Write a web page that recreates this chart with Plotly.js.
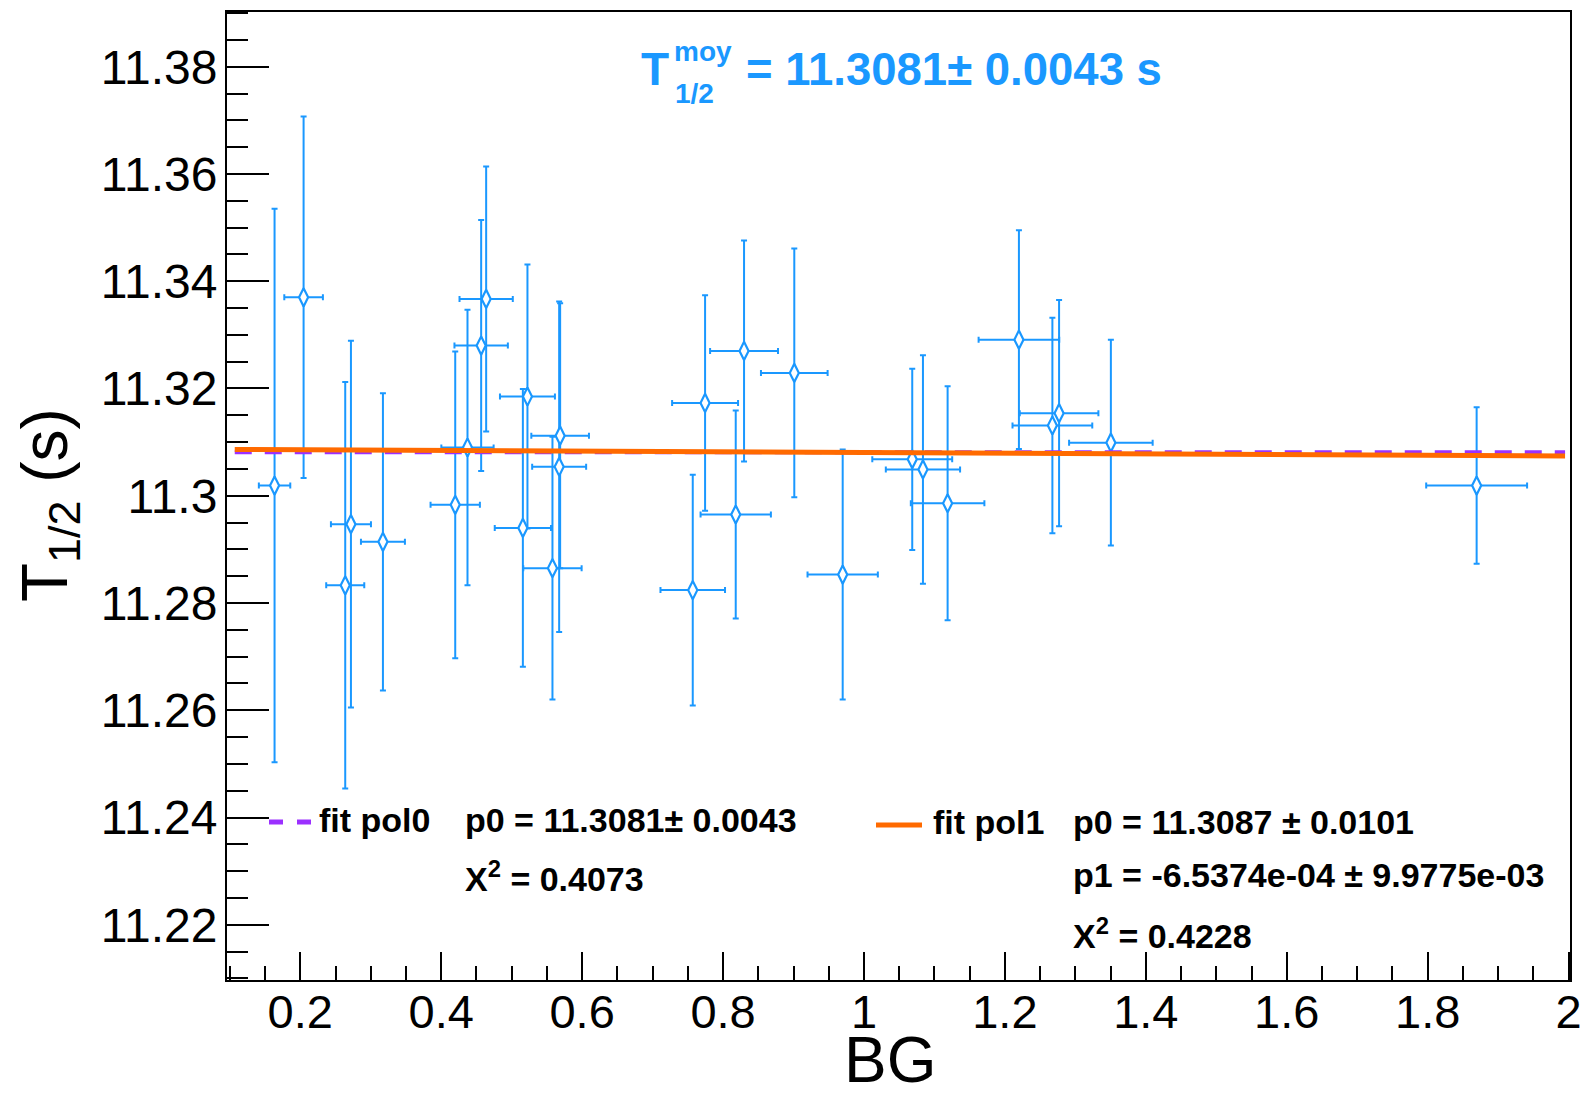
<!DOCTYPE html>
<html>
<head>
<meta charset="utf-8">
<script src="https://cdn.plot.ly/plotly-3.0.1.min.js"></script>
<style>
html,body{margin:0;padding:0;background:#fff;}
#chart{width:1588px;height:1097px;}
</style>
</head>
<body>
<div id="chart"></div>
<script>
// ---- data ----
const bg = [0.1635, 0.2047, 0.2638, 0.2719, 0.3173, 0.4199, 0.4373, 0.4567, 0.4638, 0.5159,
            0.5224, 0.5579, 0.5674, 0.5688, 0.7570, 0.7745, 0.8180, 0.8298, 0.9011, 0.9698,
            1.0685, 1.0837, 1.1187, 1.2199, 1.2674, 1.2769, 1.3504, 1.8695];
const bgErr = [0.0223, 0.0274, 0.0270, 0.0284, 0.0312, 0.0350, 0.0371, 0.0379, 0.0378, 0.0399,
               0.0390, 0.0414, 0.0383, 0.0409, 0.0458, 0.0468, 0.0499, 0.0482, 0.0473, 0.0499,
               0.0567, 0.0527, 0.0522, 0.0572, 0.0566, 0.0558, 0.0593, 0.0716];
const t12 = [11.3019, 11.3370, 11.2833, 11.2947, 11.2914, 11.2983, 11.3090, 11.3280, 11.3367, 11.2940,
             11.3185, 11.2865, 11.3054, 11.3112, 11.2824, 11.3173, 11.2965, 11.3270, 11.3229, 11.2853,
             11.3068, 11.3049, 11.2986, 11.3291, 11.3131, 11.3154, 11.3099, 11.3019];
const t12Err = [0.0516, 0.0337, 0.0379, 0.0342, 0.0277, 0.0286, 0.0257, 0.0234, 0.0247, 0.0259,
                0.0246, 0.0245, 0.0308, 0.0247, 0.0215, 0.0201, 0.0194, 0.0206, 0.0232, 0.0233,
                0.0169, 0.0213, 0.0218, 0.0204, 0.0201, 0.0211, 0.0192, 0.0146];

// fit lines (end points as drawn)
const fitX = [0.107, 1.995];
const pol0Y = [11.3081, 11.3081];
const pol1Y = [11.30863, 11.30740];

// texts
const titleMain = "= 11.3081\u00b1 0.0043 s";
const pol0Label = "fit pol0";
const pol0Lines = ["p0 = 11.3081\u00b1 0.0043", "X<sup>2</sup> = 0.4073"];
const pol1Label = "fit pol1";
const pol1Lines = ["p0 = 11.3087 \u00b1 0.0101", "p1 = -6.5374e-04 \u00b1 9.9775e-03", "X<sup>2</sup> = 0.4228"];

// ---- styling / layout ----
const BLUE = '#1a98ff';
const PURPLE = '#9b30ff';
const ORANGE = '#ff6a00';
const FONT = 'Liberation Sans, Arial, sans-serif';

const L = 227, R = 1570, T = 12, B = 980;
const px = x => (x - L) / (R - L);
const py = y => (B - y) / (B - T);

const traces = [
  {
    type: 'scatter', mode: 'markers', x: bg, y: t12,
    error_x: {type: 'data', array: bgErr, color: BLUE, thickness: 2, width: 3},
    error_y: {type: 'data', array: t12Err, color: BLUE, thickness: 2, width: 3},
    marker: {symbol: 'diamond-tall', size: 13, color: '#ffffff', line: {color: BLUE, width: 2.2}},
    showlegend: false, hoverinfo: 'x+y'
  },
  {
    type: 'scatter', mode: 'lines', x: fitX, y: pol0Y,
    line: {color: PURPLE, width: 4, dash: '17px,13px'}, showlegend: false
  },
  {
    type: 'scatter', mode: 'lines', x: fitX, y: pol1Y,
    line: {color: ORANGE, width: 5}, showlegend: false
  }
];

function ann(text, x, y, size, opts) {
  return Object.assign({
    text: text, xref: 'paper', yref: 'paper', x: px(x), y: py(y),
    xanchor: 'left', yanchor: 'middle', showarrow: false,
    font: {family: FONT, size: size, color: '#000'}
  }, opts || {});
}

const annotations = [
  // top blue formula
  ann('<b>T</b>', 639, 69, 46, {font: {family: FONT, size: 46, color: BLUE}}),
  ann('<b>moy</b>', 672, 51, 28, {font: {family: FONT, size: 28, color: BLUE}}),
  ann('<b>1/2</b>', 673, 93, 28, {font: {family: FONT, size: 28, color: BLUE}}),
  ann('<b>' + titleMain + '</b>', 744, 69, 45.5, {font: {family: FONT, size: 45.5, color: BLUE}}),
  // legend pol0
  ann('<b>' + pol0Label + '</b>', 317, 820, 34),
  ann('<b>' + pol0Lines[0] + '</b>', 463, 820, 34),
  ann('<b>' + pol0Lines[1] + '</b>', 463, 876, 34),
  // legend pol1
  ann('<b>' + pol1Label + '</b>', 931, 822, 34),
  ann('<b>' + pol1Lines[0] + '</b>', 1071, 822, 34),
  ann('<b>' + pol1Lines[1] + '</b>', 1071, 875, 34),
  ann('<b>' + pol1Lines[2] + '</b>', 1071, 933, 34),
  // axis titles
  ann('T<sub>1/2</sub> (s)', 49, 505, 64, {xanchor: 'center', textangle: -90}),
  ann('BG', 890, 1097, 64, {xanchor: 'center', yanchor: 'bottom', borderpad: 0})
];

const shapes = [
  {type: 'line', xref: 'paper', yref: 'paper', x0: px(269), x1: px(313), y0: py(822), y1: py(822),
   line: {color: PURPLE, width: 5, dash: '14px,14px'}},
  {type: 'line', xref: 'paper', yref: 'paper', x0: px(876), x1: px(922), y0: py(825), y1: py(825),
   line: {color: ORANGE, width: 5}}
];

const layout = {
  width: 1588, height: 1097,
  margin: {l: L, r: 1588 - R, t: T, b: 1097 - B, pad: 0},
  paper_bgcolor: '#fff', plot_bgcolor: '#fff',
  font: {family: FONT, color: '#000'},
  showlegend: false,
  xaxis: {
    range: [0.096, 2.002], tickmode: 'linear', tick0: 0, dtick: 0.2,
    ticks: 'inside', ticklen: 28, tickwidth: 2, tickcolor: '#000',
    minor: {dtick: 0.05, tick0: 0, ticks: 'inside', ticklen: 14, tickwidth: 2, tickcolor: '#000', showgrid: false},
    showgrid: false, zeroline: false, showline: true, linecolor: '#000', linewidth: 2, mirror: true,
    tickfont: {family: FONT, size: 47, color: '#000'}, ticklabelstandoff: -10
  },
  yaxis: {
    range: [11.2097, 11.3902], tickmode: 'linear', tick0: 11.2, dtick: 0.02,
    ticks: 'inside', ticklen: 42, tickwidth: 2, tickcolor: '#000',
    minor: {dtick: 0.005, tick0: 11.2, ticks: 'inside', ticklen: 21, tickwidth: 2, tickcolor: '#000', showgrid: false},
    showgrid: false, zeroline: false, showline: true, linecolor: '#000', linewidth: 2, mirror: true,
    tickfont: {family: FONT, size: 48, color: '#000'}, ticklabelstandoff: -2
  },
  annotations: annotations,
  shapes: shapes
};

Plotly.newPlot('chart', traces, layout, {staticPlot: true, displayModeBar: false});
</script>
</body>
</html>
